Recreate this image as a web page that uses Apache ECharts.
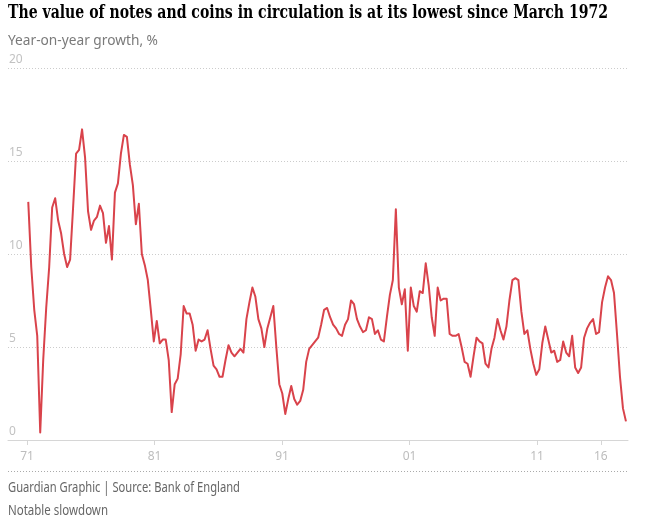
<!DOCTYPE html>
<html>
<head>
<meta charset="utf-8">
<script src="https://cdn.jsdelivr.net/npm/echarts@6/dist/echarts.min.js"></script>
<style>
  html, body { margin: 0; padding: 0; background: #fff; }
  #chart { width: 654px; height: 527px; }
</style>
</head>
<body>
<div id="chart"></div>
<script>
// year-on-year growth of notes and coins, %
// samples are evenly spaced between firstYear and lastYear
const firstYear = 1971.09
const lastYear = 2017.97
const growth = [
  12.8, 9.3, 7.0, 5.6, 0.4, 4.3, 7.1, 9.3, 12.5, 13.0,
  11.8, 11.1, 10.0, 9.3, 9.7, 12.5, 15.4, 15.6, 16.7, 15.2,
  12.3, 11.3, 11.8, 12.0, 12.6, 12.2, 10.6, 11.5, 9.7, 13.3,
  13.8, 15.4, 16.4, 16.3, 14.8, 13.7, 11.6, 12.7, 10.0, 9.4,
  8.6, 7.0, 5.3, 6.4, 5.2, 5.4, 5.4, 4.3, 1.5, 3.0,
  3.3, 4.6, 7.2, 6.8, 6.8, 6.2, 4.8, 5.4, 5.3, 5.4,
  5.9, 4.9, 4.0, 3.8, 3.4, 3.4, 4.3, 5.1, 4.7, 4.5,
  4.7, 4.9, 4.7, 6.5, 7.4, 8.2, 7.7, 6.5, 6.0, 5.0,
  6.0, 6.6, 7.2, 5.0, 3.0, 2.5, 1.4, 2.2, 2.9, 2.2,
  1.9, 2.1, 2.7, 4.2, 4.9, 5.1, 5.3, 5.5, 6.2, 7.0,
  7.1, 6.6, 6.2, 6.0, 5.7, 5.6, 6.2, 6.5, 7.5, 7.3,
  6.5, 6.1, 5.8, 5.9, 6.6, 6.5, 5.7, 5.9, 5.4, 5.3,
  6.6, 7.8, 8.6, 12.4, 8.2, 7.3, 8.1, 4.8, 8.2, 7.2,
  6.9, 8.0, 7.9, 9.5, 8.3, 6.6, 5.6, 8.2, 7.5, 7.6,
  7.6, 5.7, 5.6, 5.6, 5.7, 5.0, 4.2, 4.1, 3.4, 4.5,
  5.5, 5.3, 5.2, 4.1, 3.9, 4.9, 5.5, 6.5, 5.9, 5.4,
  6.1, 7.5, 8.6, 8.7, 8.6, 6.9, 5.7, 5.9, 4.9, 4.1,
  3.5, 3.8, 5.2, 6.1, 5.4, 4.7, 4.8, 4.2, 4.3, 5.3,
  4.7, 4.5, 5.6, 3.9, 3.6, 3.9, 5.5, 6.0, 6.3, 6.5,
  5.7, 5.8, 7.4, 8.2, 8.8, 8.6, 7.9, 5.7, 3.4, 1.7,
  1.0
]
const yearTicks = [1971, 1981, 1991, 2001, 2011, 2016]
const valueTicks = [0, 5, 10, 15, 20]

const titleText = 'The value of notes and coins in circulation is at its lowest since March 1972'
const subtitleText = 'Year-on-year growth, %'
const sourceText = 'Guardian Graphic | Source: Bank of England'
const noteText = 'Notable slowdown'

const step = (lastYear - firstYear) / (growth.length - 1)
const seriesData = growth.map((v, i) => [firstYear + i * step, v])

// the original fonts are condensed, squeeze ours to the same width
const measureCtx = document.createElement('canvas').getContext('2d')
function squeeze(text, font, width) {
  measureCtx.font = font
  return width / measureCtx.measureText(text).width
}
function textItem(text, font, color, x, y, width) {
  return {
    type: 'text',
    x: x,
    y: y,
    scaleX: squeeze(text, font, width),
    style: { text: text, font: font, fill: color, verticalAlign: 'middle' },
    silent: true
  }
}

const titleFont = "bold 18px 'DejaVu Serif'"
const smallFont = "14px 'Noto Sans'"

const chart = echarts.init(document.getElementById('chart'), null, { renderer: 'canvas' })
chart.setOption({
  animation: false,
  backgroundColor: '#ffffff',
  grid: {
    left: 8,
    right: 26,
    top: 68,
    bottom: 87,
    containLabel: false,
    outerBoundsMode: 'none'
  },
  xAxis: {
    type: 'value',
    min: 1969.5,
    max: 2018.13,
    axisLine: { show: true, lineStyle: { color: '#d6d6d6', width: 1 } },
    axisTick: {
      show: true,
      length: 5,
      customValues: yearTicks,
      lineStyle: { color: '#d6d6d6' }
    },
    axisLabel: {
      customValues: yearTicks,
      margin: 11,
      color: '#bdbdbd',
      fontSize: 12,
      fontFamily: 'Noto Sans',
      formatter: v => String(Math.round(v)).slice(2)
    },
    splitLine: { show: false }
  },
  yAxis: {
    type: 'value',
    min: valueTicks[0],
    max: valueTicks[valueTicks.length - 1],
    interval: 5,
    axisLine: { show: false },
    axisTick: { show: false },
    axisLabel: {
      inside: true,
      margin: 1,
      color: '#c2c2c2',
      fontSize: 12,
      fontFamily: 'Noto Sans',
      verticalAlign: 'bottom',
      lineHeight: 12,
      padding: [0, 0, 2, 0]
    },
    splitLine: {
      show: true,
      lineStyle: { color: '#cccccc', width: 1, type: [1, 2] }
    }
  },
  series: [
    {
      type: 'line',
      data: seriesData,
      showSymbol: false,
      symbol: 'none',
      lineStyle: { color: '#d9434b', width: 2, join: 'round' },
      emphasis: { disabled: true },
      z: 3
    }
  ],
  graphic: [
    textItem(titleText, titleFont, '#000000', 8, 13, 600),
    textItem(subtitleText, smallFont, '#7a7a7a', 8, 41, 150),
    {
      type: 'line',
      shape: { x1: 8, y1: 471.5, x2: 628, y2: 471.5 },
      style: { stroke: '#aaaaaa', lineWidth: 1, lineDash: [1, 2] },
      silent: true
    },
    textItem(sourceText, smallFont, '#666666', 8, 488, 232),
    textItem(noteText, smallFont, '#666666', 8, 511, 100)
  ]
})
</script>
</body>
</html>
